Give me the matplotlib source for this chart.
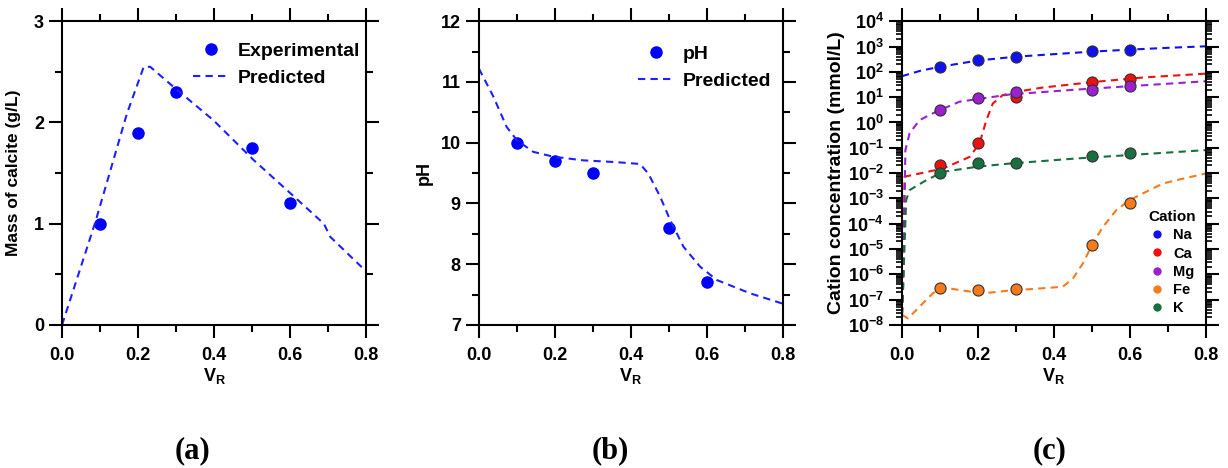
import matplotlib
matplotlib.use('Agg')
import matplotlib.pyplot as plt
import numpy as np
from matplotlib.ticker import (MultipleLocator, LogLocator, NullFormatter,
                               FixedLocator, FormatStrFormatter)

plt.rcParams['font.family'] = ['Liberation Sans', 'DejaVu Sans']
plt.rcParams['font.weight'] = 'bold'
plt.rcParams['mathtext.fontset'] = 'custom'
plt.rcParams['mathtext.rm'] = 'Liberation Sans:bold'
plt.rcParams['mathtext.bf'] = 'Liberation Sans:bold'
plt.rcParams['mathtext.it'] = 'Liberation Sans:bold'

# (a) mass of calcite
vr_exp = [0.1, 0.2, 0.3, 0.5, 0.6]
calcite_exp = [1.0, 1.9, 2.3, 1.75, 1.2]
vr_calc_pred = [0.0, 0.088, 0.171, 0.215, 0.232, 0.294, 0.399, 0.504, 0.61, 0.689, 0.706, 0.8]
calcite_pred = [0.0, 1.02, 2.09, 2.55, 2.55, 2.35, 2.02, 1.63, 1.27, 1.0, 0.87, 0.53]

# (b) pH
ph_exp = [10.0, 9.7, 9.5, 8.6, 7.7]
vr_ph_pred = [0.0, 0.038, 0.073, 0.1, 0.143, 0.196, 0.275, 0.363, 0.424, 0.446, 0.477,
              0.503, 0.538, 0.582, 0.626, 0.714, 0.8]
ph_pred = [11.22, 10.76, 10.26, 10.04, 9.85, 9.77, 9.71, 9.68, 9.65, 9.49, 9.11,
           8.73, 8.29, 7.96, 7.74, 7.52, 7.35]

# (c) cation concentrations (mmol/L)
cations = ['Na', 'Ca', 'Mg', 'Fe', 'K']
cation_colors = ['#1010f0', '#f01010', '#9a20d0', '#f97a1a', '#187040']
conc_exp = {
    'Na': [158, 290, 370, 660, 720],
    'Ca': [0.021, 0.15, 10.3, 41, 52],
    'Mg': [3.1, 9.0, 16, 20, 27],
    'Fe': [2.8e-7, 2.4e-7, 2.6e-7, 1.45e-5, 6.8e-4],
    'K': [0.0098, 0.026, 0.026, 0.048, 0.06],
}
vr_conc_pred = {
    'Na': [0.0, 0.05, 0.1, 0.2, 0.3, 0.4, 0.5, 0.6, 0.7, 0.8],
    'Ca': [0.0, 0.002, 0.007, 0.108, 0.178, 0.204, 0.222, 0.239, 0.265, 0.3, 0.37, 0.504, 0.636, 0.8],
    'Mg': [0.0, 0.003, 0.009, 0.02, 0.046, 0.081, 0.1, 0.151, 0.197, 0.285, 0.46, 0.636, 0.8],
    'Fe': [0.0, 0.016, 0.046, 0.081, 0.108, 0.151, 0.213, 0.283, 0.37, 0.423, 0.45, 0.476,
           0.502, 0.529, 0.564, 0.599, 0.634, 0.687, 0.722, 0.8],
    'K': [0.0, 0.003, 0.011, 0.02, 0.064, 0.108, 0.197, 0.285, 0.46, 0.636, 0.8],
}
log_conc_pred = {
    'Na': [1.83, 2.05, 2.2, 2.45, 2.6, 2.7, 2.8, 2.88, 2.95, 3.01],
    'Ca': [-7.6, -7.0, -2.14, -1.82, -1.36, -0.83, 0.09, 0.75, 1.08, 1.21, 1.38, 1.6, 1.78, 1.93],
    'Mg': [-7.6, -6.5, -1.09, -0.43, 0.09, 0.36, 0.49, 0.82, 0.92, 1.11, 1.3, 1.47, 1.63],
    'Fe': [-7.6, -7.74, -7.28, -6.75, -6.51, -6.62, -6.75, -6.64, -6.55, -6.49, -6.16, -5.57,
           -4.78, -4.12, -3.46, -3.07, -2.8, -2.41, -2.28, -2.01],
    'K': [-7.6, -6.5, -3.07, -2.67, -2.28, -1.95, -1.75, -1.62, -1.42, -1.25, -1.09],
}

dash = (0, (3.5, 2.5))
fs = 13


def style_axes(ax):
    for s in ax.spines.values():
        s.set_linewidth(1.5)
    ax.tick_params(which='both', direction='out', top=True, right=True, width=1.5,
                   labelsize=fs)
    ax.tick_params(which='major', length=9.5)
    ax.tick_params(which='minor', length=5)
    ax.tick_params(axis='x', which='major', pad=6)
    ax.set_xlim(0, 0.8)
    ax.xaxis.set_major_locator(MultipleLocator(0.2))
    ax.xaxis.set_minor_locator(MultipleLocator(0.1))
    ax.xaxis.set_major_formatter(FormatStrFormatter('%.1f'))
    ax.set_xlabel(r'$\mathbf{V_R}$', fontsize=fs, labelpad=2)


fig = plt.figure(figsize=(12.28, 4.68), dpi=100)
w, h, b = 0.2476, 0.649, 0.3056
ax1 = fig.add_axes([0.0505, b, w, h])
ax2 = fig.add_axes([0.390, b, w, h])
ax3 = fig.add_axes([0.7345, b, w, h])

# panel a
ax1.plot(vr_exp, calcite_exp, 'o', color='#0000ff', ms=8, label='Experimental')
ax1.plot(vr_calc_pred, calcite_pred, color='#2020ff', lw=1.5, ls=dash, label='Predicted')
style_axes(ax1)
ax1.set_ylim(0, 3)
ax1.yaxis.set_major_locator(MultipleLocator(1))
ax1.yaxis.set_minor_locator(MultipleLocator(0.5))
ax1.yaxis.set_major_formatter(FormatStrFormatter('%d'))
ax1.set_ylabel('Mass of calcite (g/L)', fontsize=12.5, fontweight='bold', labelpad=9)
ax1.legend(loc='upper right', frameon=False, fontsize=14, handlelength=1.8,
           handletextpad=0.5, bbox_to_anchor=(1.02, 0.97), borderaxespad=0.2)

# panel b
ax2.plot(vr_exp, ph_exp, 'o', color='#0000ff', ms=8, label='pH')
ax2.plot(vr_ph_pred, ph_pred, color='#2020ff', lw=1.5, ls=dash, label='Predicted')
style_axes(ax2)
ax2.set_ylim(7, 12)
ax2.yaxis.set_major_locator(MultipleLocator(1))
ax2.yaxis.set_minor_locator(MultipleLocator(0.5))
ax2.set_ylabel('pH', fontsize=fs, fontweight='bold', labelpad=6)
ax2.legend(loc='upper right', frameon=False, fontsize=14, handlelength=1.8,
           handletextpad=0.5, bbox_to_anchor=(1.0, 0.96), borderaxespad=0.2)

# panel c
for name, col in zip(cations, cation_colors):
    ax3.plot(vr_conc_pred[name], 10 ** np.array(log_conc_pred[name]), color=col,
             lw=1.5, ls=dash)
for name, col in zip(cations, cation_colors):
    ax3.plot(vr_exp, conc_exp[name], 'o', color=col, mec='#333333', mew=0.8, ms=8,
             label=name)
ax3.set_yscale('log')
style_axes(ax3)
ax3.set_ylim(1e-8, 1e4)
ax3.yaxis.set_major_locator(FixedLocator([10.0 ** k for k in range(-8, 5)]))
ax3.yaxis.set_minor_locator(LogLocator(base=10, subs=np.arange(2, 10), numticks=100))
ax3.yaxis.set_minor_formatter(NullFormatter())
ax3.set_yticklabels([r'$\mathbf{10^{%d}}$' % k for k in range(-8, 5)])
ax3.tick_params(axis='y', which='minor', length=4, width=1.2)
ax3.set_ylabel('Cation concentration (mmol/L)', fontsize=14, fontweight='bold', labelpad=2)
leg = ax3.legend(loc='lower right', frameon=False, fontsize=10.5, title='Cation',
                 title_fontsize=11, markerscale=0.75, handlelength=1.0,
                 handletextpad=0.6, labelspacing=0.28, borderaxespad=0.3)
leg.get_title().set_fontweight('bold')
for m in leg.legend_handles:
    m.set_markeredgewidth(0)

for x, lab in [(0.157, '(a)'), (0.497, '(b)'), (0.855, '(c)')]:
    fig.text(x, 1 - 451 / 468, lab, ha='center', va='center', fontsize=22,
             fontweight='bold', family='Liberation Serif')

fig.savefig('out.png', dpi=100)
